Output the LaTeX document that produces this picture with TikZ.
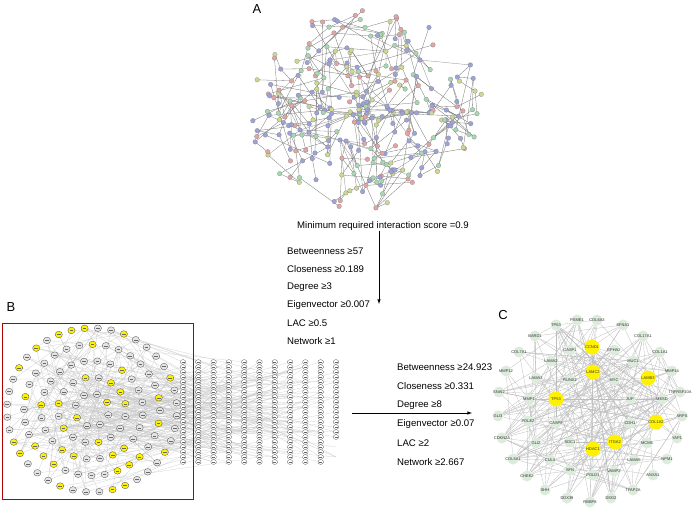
\documentclass[tikz,border=0pt]{standalone}
\usepackage{fontspec}
\setmainfont{Liberation Sans}
\usetikzlibrary{backgrounds}
\definecolor{ca}{HTML}{9CA2DA}
\definecolor{cb}{HTML}{A6D8B2}
\definecolor{cc}{HTML}{CCD98E}
\definecolor{cd}{HTML}{E2A4A4}
\definecolor{cgreen}{HTML}{DCEBDC}
\definecolor{cyel}{HTML}{FFF200}
\tikzset{
 lab/.style={font=\fontsize{9.6}{11}\selectfont,anchor=west,inner sep=0pt},
 panel/.style={font=\fontsize{13}{15}\selectfont,inner sep=0pt},
 aedge/.style={draw=black!55,line width=0.3pt},
 bedge/.style={draw=black!22,line width=0.2pt},
 bnode/.style={draw=black!70,line width=0.3pt},
 cnode/.style={circle,fill=cgreen,inner sep=0pt,minimum size=11pt},
 cyn/.style={cnode,fill=cyel,minimum size=15pt},
 ctext/.style={inner sep=0pt,font=\fontsize{4}{4.5}\selectfont,text=black!80},
 cedge/.style={draw=black!26,line width=0.3pt},
 arr/.style={-latex,line width=0.6pt}
}
\begin{document}
\begin{tikzpicture}[x=1pt,y=-1pt]
\useasboundingbox (0,0) rectangle (694,509);
% ---------- Panel A
\node[panel] (A) at (257,9) {A};
\pgfmathsetseed{11}
\foreach \i in {1,...,300}{
 \pgfmathsetmacro\rr{sqrt(rnd)^1.3}
 \pgfmathsetmacro\ang{360*rnd}
 \pgfmathsetmacro\nx{366+118*\rr*cos(\ang)}
 \pgfmathsetmacro\ny{110+100*\rr*sin(\ang)}
 \pgfmathtruncatemacro\cc{random(1,5)}
 \expandafter\xdef\csname ax\i\endcsname{\nx}
 \expandafter\xdef\csname ay\i\endcsname{\ny}
 \expandafter\xdef\csname ac\i\endcsname{\cc}
}
\foreach \i in {2,...,300}{
 \pgfmathsetmacro\xi{\csname ax\i\endcsname}
 \pgfmathsetmacro\yi{\csname ay\i\endcsname}
 \xdef\best{1}\xdef\bd{9999}
 \foreach \t in {1,...,10}{
  \pgfmathtruncatemacro\j{random(1,300)}
  \ifnum\j=\i\else
  \pgfmathsetmacro\d{abs(\xi-\csname ax\j\endcsname)+abs(\yi-\csname ay\j\endcsname)}
  \pgfmathsetmacro\ok{\d<\bd?1:0}
  \ifdim\ok pt>0.5pt\xdef\best{\j}\xdef\bd{\d}\fi
  \fi
 }
 \draw[aedge] (\xi,\yi) -- (\csname ax\best\endcsname,\csname ay\best\endcsname);
}
\foreach \h/\hx/\hy in {1/372/118,2/390/110,3/340/140,4/330/60,5/420/60,6/395/170,7/300/130}{
 \foreach \t in {1,...,22}{
  \pgfmathtruncatemacro\j{random(1,300)}
  \pgfmathsetmacro\d{abs(\hx-\csname ax\j\endcsname)+abs(\hy-\csname ay\j\endcsname)}
  \pgfmathsetmacro\ok{\d<75?1:0}
  \ifdim\ok pt>0.5pt
   \draw[aedge,draw=black!45] (\hx,\hy) -- (\csname ax\j\endcsname,\csname ay\j\endcsname);
  \fi
 }
}
\foreach \i in {1,...,300}{
 \edef\cc{\csname ac\i\endcsname}
 \ifcase\cc\or\def\col{ca}\or\def\col{cb}\or\def\col{cc}\or\def\col{cd}\or\def\col{ca}\fi
 \filldraw[fill=\col,draw=black!50,line width=0.2pt] (\csname ax\i\endcsname,\csname ay\i\endcsname) circle (2.3);
}
\foreach \h/\hx/\hy in {1/372/118,2/390/110,3/340/140,4/330/60,5/420/60,6/395/170,7/300/130}{
 \filldraw[fill=ca,draw=black!50,line width=0.2pt] (\hx,\hy) circle (2.3);
}
\node[font=\fontsize{9.6}{11}\selectfont,inner sep=0pt] (ms) at (383,226) {Minimum required interaction score =0.9};
\coordinate (a1e) at (379,304);
\draw[arr] (ms.south -| a1e) -- (a1e);
\node[lab] (t11) at (287,251) {Betweenness ≥57};
\node[lab] (t12) at (287,269) {Closeness ≥0.189};
\node[lab] (t13) at (287,287) {Degree ≥3};
\node[lab] (t14) at (287,305) {Eigenvector ≥0.007};
\node[lab] (t15) at (287,323) {LAC ≥0.5};
\node[lab] (t16) at (287,341) {Network ≥1};
% ---------- Panel B
\node[panel] (B) at (11,307) {B};
\pgfmathsetseed{5}
\foreach \e in {1,...,360}{
 \pgfmathtruncatemacro\k{random(1,5)}
 \pgfmathsetmacro\aa{360*random(1,8*\k)/(8*\k)+17*\k}
 \pgfmathsetmacro\xa{92+17*\k*cos(\aa)}
 \pgfmathsetmacro\ya{410+16.4*\k*sin(\aa)}
 \pgfmathtruncatemacro\kk{random(1,5)}
 \pgfmathsetmacro\ab{360*random(1,8*\kk)/(8*\kk)+17*\kk}
 \pgfmathsetmacro\xb{92+17*\kk*cos(\ab)}
 \pgfmathsetmacro\yb{410+16.4*\kk*sin(\ab)}
 \pgfmathsetmacro\xg{183+15.3*random(0,10)}
 \pgfmathsetmacro\yg{362+5*random(0,20)}
 \ifodd\e
  \draw[bedge] (\xa,\ya) -- (\xb,\yb);
 \else
  \draw[bedge] (\xa,\ya) -- (\xg,\yg);
 \fi
}
\foreach \k in {1,...,5}{
 \pgfmathtruncatemacro\nn{8*\k}
 \foreach \t in {1,...,\nn}{
  \pgfmathsetmacro\aa{360*\t/\nn+17*\k}
  \pgfmathsetmacro\yy{rnd<0.32?1:0}
  \ifdim\yy pt>0.5pt\def\col{cyel}\else\def\col{black!10}\fi
  \filldraw[bnode,fill=\col] ({92+17*\k*cos(\aa)},{410+16.4*\k*sin(\aa)}) ellipse (3.6 and 3.3);
  \draw[black!60,line width=0.25pt] ({92+17*\k*cos(\aa)-1.8},{410+16.4*\k*sin(\aa)}) -- ++(3.6,0);
 }
}
\foreach \c in {0,...,10}{
 \pgfmathtruncatemacro\rmax{\c==10?15:20}
 \foreach \r in {0,...,\rmax}{
  \draw[bnode,line width=0.25pt,fill=white] ({183+15.3*\c},{362+5*\r}) ellipse (2.8 and 2.4);
  \draw[black!60,line width=0.2pt] ({183+15.3*\c-1.5},{362+5*\r}) -- ++(3,0);
 }
}
\draw[draw=red!70!black,line width=0.7pt] (2,323) rectangle (193,499);
% ---------- arrow 2 + text
\coordinate (a2s) at (352,413);
\coordinate (a2e) at (472,413);
\draw[arr] (a2s) -- (a2e);
\node[lab] (t21) at (397,367) {Betweenness ≥24.923};
\node[lab] (t22) at (397,386) {Closeness ≥0.331};
\node[lab] (t23) at (397,405) {Degree ≥8};
\node[lab] (t24) at (397,424) {Eigenvector ≥0.07};
\node[lab] (t25) at (397,443) {LAC ≥2};
\node[lab] (t26) at (397,462) {Network ≥2.667};
% ---------- Panel C
\node[panel] (C) at (503,315) {C};
\foreach \nm/\x/\y/\yl [count=\n] in {
TP63/556/325/0,PSME1/577/320/0,COL6A3/597/320/0,EFNA1/623/325/0,BARD1/535/336/0,
COL17A1/643/336/0,COL7A1/519/352/0,CASP1/570/350/0,CCND1/592/347/1,EPHA2/614/350/0,
COL1A1/660/352/0,LAMA2/551/361/0,MUC1/633/361/0,MMP12/506/371/0,LAMA3/536/378/0,
RUNX2/570/380/0,LAMC2/593/372/1,MYC/614/380/0,LAMB3/648/378/1,MMP14/672/371/0,
SNAI2/499/392/0,MMP1/529/399/0,TP53/556/399/1,JUP/630/399/0,MESD/662/399/0,
TNFRSF10A/680/392/0,GLI3/498/416/0,POLE2/528/421/0,CASP8/556/423/0,CDH1/630/423/0,
COL1A2/656/422/1,ARPS/682/416/0,CDKN2A/502/438/0,GLI2/536/443/0,SDC1/570/442/0,
HDAC1/593/449/1,ITGA2/615/442/1,MCM5/647/443/0,YAP1/677/438/0,COL5A1/513/459/0,
CUL4/550/460/0,LAMA5/634/460/0,NPM1/667/459/0,CHEK2/527/476/0,SFN/570/470/0,
POLD1/593/475/0,VAMP2/614/471/0,ANXA1/653/475/0,SHH/545/490/0,DDX39/567/498/0,
RBBP8/590/502/0,DSG2/611/498/0,TFAP2A/633/490/0}{
 \ifnum\yl=1
  \node[cyn] (c\n) at (\x,\y) {};
 \else
  \node[cnode] (c\n) at (\x,\y) {};
 \fi
 \node[ctext] (l\n) at (c\n) {\nm};
}
\begin{scope}[on background layer]
\pgfmathsetseed{21}
\foreach \e in {1,...,190}{
 \pgfmathtruncatemacro\p{random(1,53)}
 \pgfmathtruncatemacro\q{random(1,53)}
 \ifnum\p=\q\else\draw[cedge] (c\p) -- (c\q);\fi
}
\foreach \h in {9,17,19,23,31,36,37}{
 \foreach \e in {1,...,7}{
  \pgfmathtruncatemacro\q{random(1,53)}
  \ifnum\h=\q\else\draw[cedge] (c\h) -- (c\q);\fi
 }
}
\end{scope}
\end{tikzpicture}
\end{document}
